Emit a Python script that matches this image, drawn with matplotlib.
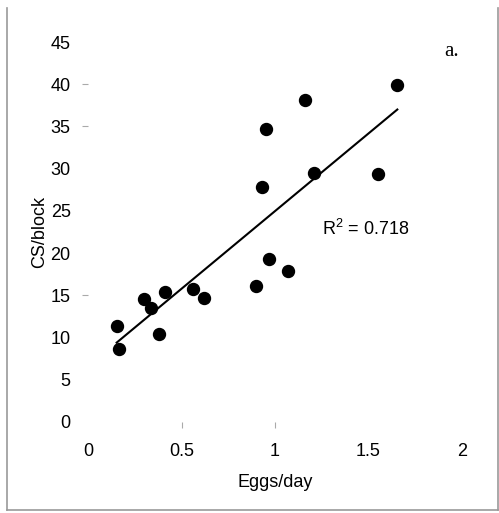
import matplotlib
matplotlib.use("Agg")
import matplotlib.pyplot as plt
from matplotlib.lines import Line2D
import numpy as np

plt.rcParams['font.family'] = ['Liberation Sans', 'DejaVu Sans']
plt.rcParams['mathtext.fontset'] = 'custom'
plt.rcParams['mathtext.rm'] = 'Liberation Sans'
plt.rcParams['mathtext.default'] = 'regular'

# eggs per day vs CS per block
eggs = [0.153, 0.167, 0.301, 0.337, 0.410, 0.381, 0.563, 0.619, 0.952,
        1.160, 1.654, 1.209, 1.552, 0.929, 0.968, 1.071, 0.897]
cs = [11.37, 8.61, 14.57, 13.47, 15.43, 10.39, 15.72, 14.65, 34.73,
      38.10, 39.95, 29.45, 29.33, 27.87, 19.30, 17.92, 16.11]

x_ticks = [0, 0.5, 1, 1.5, 2]
x_labels = ['0', '0.5', '1', '1.5', '2']
y_ticks = [0, 5, 10, 15, 20, 25, 30, 35, 40, 45]
r2_text = r'R$^{2}$ = 0.718'

fig = plt.figure(figsize=(4.99, 5.13), dpi=100)
ax = fig.add_axes([0.1764, 0.1774, 0.7495, 0.7407])

ax.scatter(eggs, cs, s=74, color='black', zorder=3)

# least squares trend line
slope, icept = np.polyfit(eggs, cs, 1)
xs = np.array([min(eggs), max(eggs)])
ax.plot(xs, slope * xs + icept, color='black', lw=1.5)

ax.set_xlim(0, 2)
ax.set_ylim(0, 45)
ax.set_xticks(x_ticks)
ax.set_xticklabels(x_labels)
ax.set_yticks(y_ticks)
for s in ax.spines.values():
    s.set_visible(False)
ax.tick_params(axis='both', labelsize=13, color='#aaaaaa', length=4, width=0.8)
ax.tick_params(axis='y', pad=8.5)
ax.tick_params(axis='x', pad=11)

# only a few tick marks survive in the scan
for t, v in zip(ax.xaxis.get_major_ticks(), x_ticks):
    t.tick1line.set_visible(v in (0.5, 1))
for t, v in zip(ax.yaxis.get_major_ticks(), y_ticks):
    t.tick1line.set_visible(v in (15, 35, 40))

ax.set_xlabel('Eggs/day', fontsize=13, labelpad=10)
ax.set_ylabel('CS/block', fontsize=13, labelpad=2)

ax.text(1.485, 22.9, r2_text, fontsize=13, ha='center', va='center')
fig.text(452 / 499, 1 - 52 / 513, 'a.', fontsize=15, family='Liberation Serif',
         ha='center', va='center')

# scanned frame (left, bottom, right)
box_col = '#999999'
fig.add_artist(Line2D([7 / 499, 7 / 499], [1 - 8 / 513, 1 - 510 / 513],
                      color=box_col, lw=1.2))
fig.add_artist(Line2D([7 / 499, 498 / 499], [1 - 510 / 513, 1 - 510 / 513],
                      color=box_col, lw=1.2))
fig.add_artist(Line2D([498 / 499, 498 / 499], [1 - 8 / 513, 1 - 510 / 513],
                      color=box_col, lw=1.2))

fig.savefig('out.png', dpi=100)
